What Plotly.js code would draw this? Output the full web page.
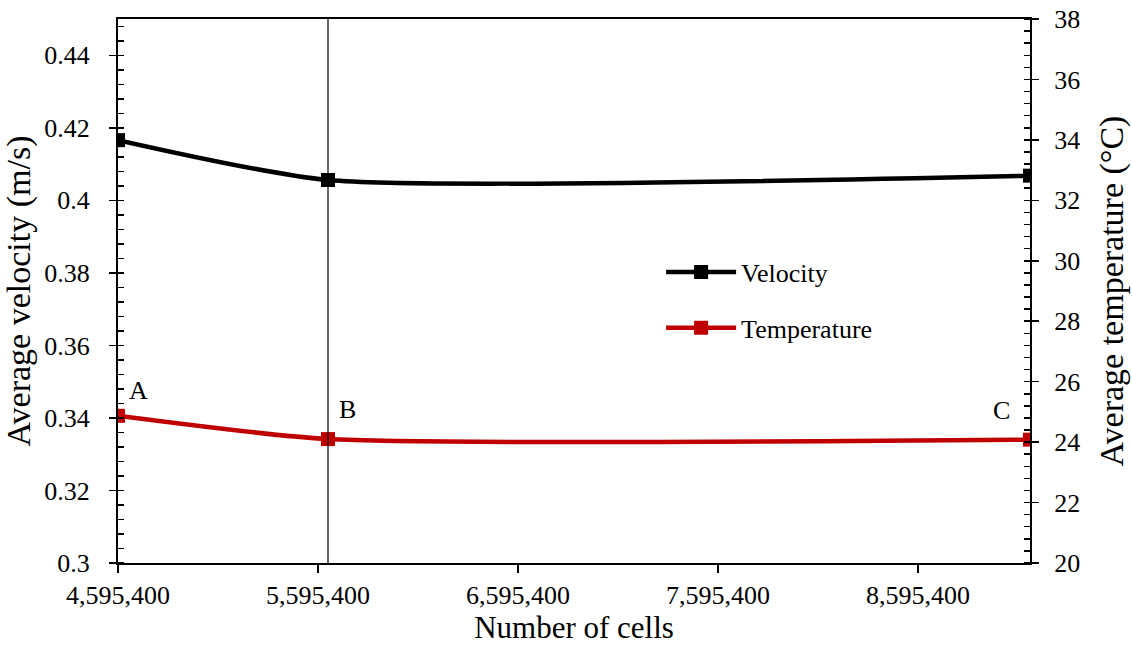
<!DOCTYPE html>
<html>
<head>
<meta charset="utf-8">
<script src="https://cdn.plot.ly/plotly-3.0.1.min.js"></script>
<style>
html,body{margin:0;padding:0;background:#fff;}
#chart{width:1132px;height:650px;}
</style>
</head>
<body>
<div id="chart"></div>
<script>
// Data
const cells = [4595400, 5645400, 9155400];
const pointLabels = ["A", "B", "C"];
const velocity = [0.4166, 0.4056, 0.4068];
const temperature = [24.87, 24.10, 24.08];
const xTick0 = 4595400;
const xTickStep = 1000000;

const FONT = "Liberation Serif";

const traces = [
  {
    x: cells, y: velocity, name: "Velocity", type: "scatter", mode: "lines+markers",
    line: {color: "#000000", width: 4.5, shape: "spline", smoothing: 0.6},
    marker: {symbol: "square", size: 14, color: "#000000"},
    yaxis: "y", legendgroup: "v"
  },
  {
    x: cells, y: temperature, name: "Temperature", type: "scatter", mode: "lines+markers",
    line: {color: "#C00000", width: 4.5, shape: "spline", smoothing: 0.6},
    marker: {symbol: "square", size: 14, color: "#C00000"},
    yaxis: "y2", legendgroup: "t"
  }
];

const shifts = [[20, 25], [19, 30], [-29, 29]];
const annotations = pointLabels.map((t, i) => ({
  x: cells[i], y: temperature[i], xref: "x", yref: "y2", text: t, showarrow: false,
  xshift: shifts[i][0], yshift: shifts[i][1],
  font: {family: FONT, size: 26, color: "#000"}
}));

const layout = {
  width: 1132, height: 650,
  margin: {l: 118, r: 102, t: 19, b: 87},
  paper_bgcolor: "#fff", plot_bgcolor: "#fff",
  font: {family: FONT, color: "#000", size: 26},
  showlegend: true,
  legend: {
    x: 0.5955, y: 0.578, xanchor: "left", yanchor: "top",
    bgcolor: "rgba(0,0,0,0)", font: {family: FONT, size: 26, color: "#000"},
    itemwidth: 70, tracegroupgap: 19, traceorder: "grouped"
  },
  xaxis: {
    range: [cells[0], cells[cells.length - 1]],
    tick0: xTick0, dtick: xTickStep, tickformat: ",d",
    ticks: "outside", ticklen: 8, tickwidth: 1.5, tickcolor: "#000",
    showline: true, linewidth: 2, linecolor: "#000", mirror: true,
    showgrid: false, zeroline: false,
    tickfont: {family: FONT, size: 26, color: "#000"},
    title: {text: "Number of cells", font: {family: FONT, size: 31, color: "#000"}, standoff: 6}
  },
  yaxis: {
    range: [0.3, 0.45], dtick: 0.02, tick0: 0.3,
    ticks: "outside", ticklen: 7, tickwidth: 1.5, tickcolor: "#000",
    minor: {dtick: 0.004, ticks: "inside", ticklen: 6, tickwidth: 1.5, tickcolor: "#000", showgrid: false},
    showline: true, linewidth: 2, linecolor: "#000",
    showgrid: false, zeroline: false, ticklabelstandoff: 14,
    tickfont: {family: FONT, size: 26, color: "#000"},
    title: {text: "Average velocity (m/s)", font: {family: FONT, size: 34, color: "#000"}, standoff: 7}
  },
  yaxis2: {
    overlaying: "y", side: "right",
    range: [20, 38], dtick: 2, tick0: 20,
    ticks: "outside", ticklen: 7, tickwidth: 1.5, tickcolor: "#000",
    minor: {dtick: 0.4, ticks: "inside", ticklen: 6, tickwidth: 1.5, tickcolor: "#000", showgrid: false},
    showline: true, linewidth: 2, linecolor: "#000",
    showgrid: false, zeroline: false, ticklabelstandoff: 10,
    tickfont: {family: FONT, size: 26, color: "#000"},
    title: {text: "Average temperature (°C)", font: {family: FONT, size: 34, color: "#000"}, standoff: 20}
  },
  shapes: [{
    type: "line", xref: "x", yref: "paper",
    x0: cells[1], x1: cells[1], y0: 0, y1: 1,
    line: {color: "#000", width: 1.2}
  }],
  annotations: annotations
};

Plotly.newPlot("chart", traces, layout, {displayModeBar: false, staticPlot: true}).then(function (gd) {
  // lengthen the legend line samples to match the reference
  gd.querySelectorAll(".legend .traces").forEach(function (tr) {
    tr.querySelectorAll(".legendlines path").forEach(function (p) { p.setAttribute("d", "M5,0h70"); });
    tr.querySelectorAll(".legendpoints path").forEach(function (p) { p.setAttribute("transform", "translate(40,0)"); });
  });
});
</script>
</body>
</html>
